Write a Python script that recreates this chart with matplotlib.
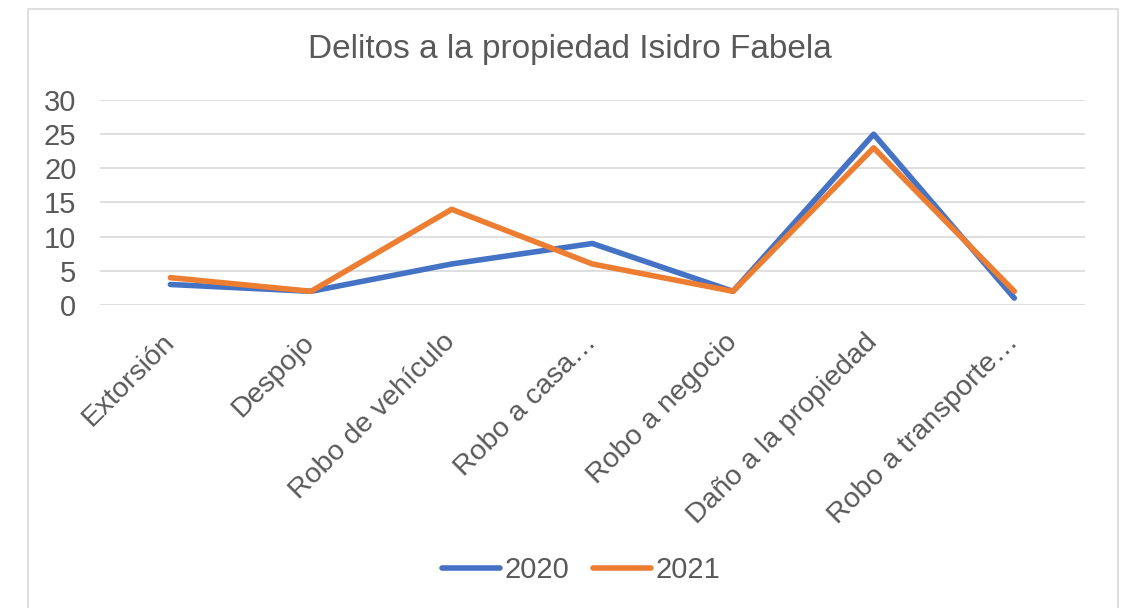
import matplotlib.pyplot as plt
from matplotlib.patches import Rectangle

# data
categorias = ["Extorsión", "Despojo", "Robo de vehículo", "Robo a casa…",
              "Robo a negocio", "Daño a la propiedad", "Robo a transporte…"]
valores_2020 = [3, 2, 6, 9, 2, 25, 1]
valores_2021 = [4, 2, 14, 6, 2, 23, 2]

plt.rcParams['font.family'] = ['Liberation Sans', 'DejaVu Sans']
gris = '#595959'

fig = plt.figure(figsize=(11.24, 6.08), dpi=100)
ax = fig.add_axes([0.089, 0.4984, 0.876, 0.3371])

x = range(len(categorias))
ax.plot(x, valores_2020, color='#4472C4', lw=4, label='2020', solid_capstyle='round')
ax.plot(x, valores_2021, color='#ED7D31', lw=4, label='2021', solid_capstyle='round')

ax.set_xlim(-0.5, len(categorias) - 0.5)
ax.set_ylim(0, 30)
ax.set_yticks(range(0, 31, 5))
ax.grid(axis='y', color='#D9D9D9', lw=1.2)
ax.set_axisbelow(True)
for s in ax.spines.values():
    s.set_visible(False)
ax.tick_params(axis='y', length=0, pad=17, labelsize=21, labelcolor=gris)
ax.tick_params(axis='x', length=0, pad=24)
ax.set_xticks(list(x))
ax.set_xticklabels(categorias, rotation=45, ha='right', va='center',
                   rotation_mode='anchor', fontsize=20.5, color=gris)

fig.text(0.507, 0.919, "Delitos a la propiedad Isidro Fabela", ha='center', va='center',
         fontsize=24, color=gris)

leg = fig.legend(loc='center', bbox_to_anchor=(0.517, 0.062), ncol=2, frameon=False,
                 fontsize=21, handlelength=2.0, columnspacing=0.8, handletextpad=0.15)
for t in leg.get_texts():
    t.set_color(gris)

fig.patches.append(Rectangle((0.025, -0.05), 0.97, 1.036, transform=fig.transFigure,
                             fill=False, edgecolor='#D9D9D9', lw=1.2))

fig.savefig('out.png', dpi=100)
